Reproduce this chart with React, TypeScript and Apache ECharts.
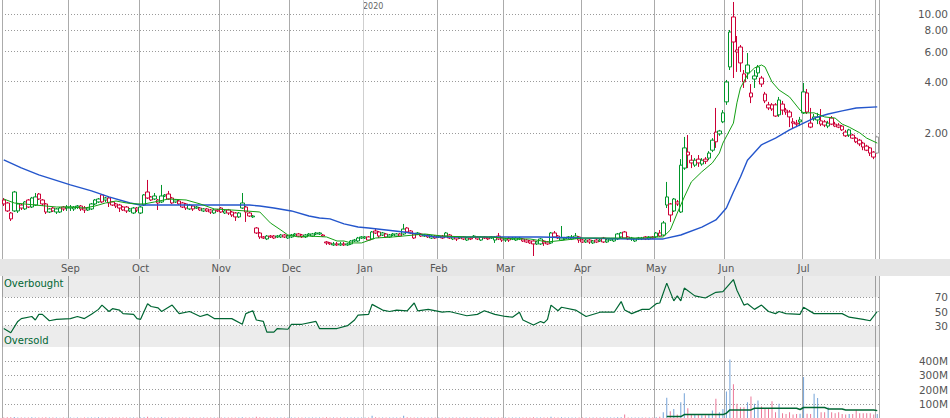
import React, { useEffect, useRef } from 'react';
import * as echarts from 'echarts';

// ---- categories: trading sessions per month (Aug 2019 .. Jul 2020) ----
const monthNames = ['Aug', 'Sep', 'Oct', 'Nov', 'Dec', 'Jan', 'Feb', 'Mar', 'Apr', 'May', 'Jun', 'Jul'];
const sessionsPerMonth = [19, 20, 23, 20, 21, 21, 19, 22, 21, 20, 22, 22];
const yearLabel = '2020';

// ---- candles: [open, close, low, high] ----
const augCandles = [
  [0.805, 0.763, 0.742, 0.827], [0.773, 0.694, 0.684, 0.784], [0.675, 0.623, 0.606, 0.684], [0.897, 0.694, 0.684, 0.910],
  [0.694, 0.763, 0.675, 0.773], [0.752, 0.722, 0.703, 0.763], [0.713, 0.784, 0.703, 0.794], [0.805, 0.732, 0.722, 0.816],
  [0.732, 0.827, 0.722, 0.839], [0.752, 0.839, 0.742, 0.885], [0.873, 0.816, 0.805, 0.885], [0.805, 0.763, 0.742, 0.816],
  [0.763, 0.684, 0.666, 0.773], [0.684, 0.713, 0.675, 0.722], [0.722, 0.694, 0.684, 0.732], [0.684, 0.713, 0.666, 0.722],
  [0.684, 0.722, 0.675, 0.732], [0.732, 0.713, 0.694, 0.742], [0.732, 0.722, 0.694, 0.752],
];
const sepCandles = [
  [0.732, 0.722, 0.694, 0.752], [0.713, 0.732, 0.694, 0.742], [0.742, 0.732, 0.713, 0.752], [0.742, 0.713, 0.694, 0.752],
  [0.722, 0.703, 0.675, 0.742], [0.703, 0.722, 0.694, 0.732], [0.713, 0.763, 0.703, 0.773], [0.805, 0.763, 0.752, 0.816],
  [0.784, 0.816, 0.773, 0.827], [0.862, 0.784, 0.773, 0.873], [0.827, 0.805, 0.784, 0.839], [0.827, 0.773, 0.732, 0.839],
  [0.784, 0.752, 0.742, 0.794], [0.763, 0.742, 0.722, 0.773], [0.752, 0.722, 0.684, 0.763], [0.732, 0.703, 0.694, 0.742],
  [0.732, 0.694, 0.675, 0.742], [0.694, 0.713, 0.684, 0.722], [0.675, 0.722, 0.666, 0.732], [0.722, 0.703, 0.684, 0.732],
];
const octCandles = [
  [0.675, 0.732, 0.666, 0.742], [0.752, 0.862, 0.742, 0.873], [0.897, 0.827, 0.816, 1.056], [0.839, 0.805, 0.794, 0.850],
  [0.850, 0.816, 0.805, 0.885], [0.805, 0.773, 0.703, 0.816], [0.784, 0.850, 0.773, 0.987], [0.862, 0.850, 0.839, 0.873],
  [0.873, 0.816, 0.805, 0.910], [0.827, 0.773, 0.763, 0.839], [0.805, 0.784, 0.773, 0.816], [0.794, 0.763, 0.752, 0.805],
  [0.773, 0.732, 0.722, 0.784], [0.763, 0.722, 0.703, 0.773], [0.713, 0.752, 0.703, 0.763], [0.742, 0.713, 0.694, 0.752],
  [0.732, 0.722, 0.713, 0.742], [0.722, 0.703, 0.694, 0.732], [0.694, 0.713, 0.684, 0.722], [0.713, 0.694, 0.684, 0.722],
  [0.703, 0.684, 0.666, 0.713], [0.675, 0.703, 0.666, 0.713], [0.703, 0.694, 0.684, 0.713],
];
const novCandles = [
  [0.722, 0.684, 0.675, 0.732], [0.675, 0.694, 0.666, 0.703], [0.703, 0.675, 0.657, 0.713], [0.684, 0.657, 0.640, 0.694],
  [0.675, 0.640, 0.606, 0.684], [0.640, 0.675, 0.631, 0.684], [0.773, 0.722, 0.713, 0.885], [0.732, 0.684, 0.598, 0.742],
  [0.675, 0.648, 0.640, 0.684], [0.640, 0.648, 0.631, 0.657], [0.551, 0.515, 0.508, 0.558], [0.515, 0.488, 0.475, 0.522],
  [0.488, 0.481, 0.475, 0.494], [0.475, 0.494, 0.468, 0.501], [0.494, 0.488, 0.481, 0.501], [0.494, 0.481, 0.475, 0.501],
  [0.494, 0.488, 0.481, 0.501], [0.488, 0.501, 0.481, 0.508], [0.501, 0.488, 0.481, 0.508], [0.481, 0.494, 0.475, 0.501],
];
const decCandles = [
  [0.488, 0.501, 0.481, 0.508], [0.508, 0.501, 0.494, 0.515], [0.508, 0.494, 0.488, 0.515], [0.501, 0.488, 0.481, 0.508],
  [0.488, 0.501, 0.481, 0.508], [0.508, 0.501, 0.494, 0.515], [0.494, 0.508, 0.488, 0.515], [0.515, 0.508, 0.501, 0.522],
  [0.515, 0.508, 0.501, 0.522], [0.501, 0.494, 0.488, 0.508], [0.456, 0.450, 0.438, 0.462], [0.450, 0.444, 0.438, 0.456],
  [0.438, 0.444, 0.432, 0.456], [0.444, 0.438, 0.432, 0.456], [0.438, 0.444, 0.432, 0.456], [0.444, 0.438, 0.432, 0.456],
  [0.438, 0.444, 0.432, 0.450], [0.444, 0.462, 0.438, 0.468], [0.468, 0.462, 0.456, 0.475], [0.462, 0.481, 0.456, 0.488],
  [0.488, 0.481, 0.475, 0.494],
];
const janCandles = [
  [0.488, 0.481, 0.475, 0.494], [0.488, 0.468, 0.462, 0.494], [0.475, 0.522, 0.468, 0.529], [0.529, 0.515, 0.508, 0.543],
  [0.522, 0.494, 0.481, 0.529], [0.515, 0.501, 0.494, 0.522], [0.508, 0.488, 0.481, 0.515], [0.488, 0.501, 0.481, 0.508],
  [0.508, 0.501, 0.494, 0.515], [0.494, 0.508, 0.488, 0.515], [0.508, 0.494, 0.488, 0.515], [0.508, 0.543, 0.501, 0.582],
  [0.551, 0.522, 0.515, 0.558], [0.529, 0.515, 0.508, 0.536], [0.481, 0.508, 0.475, 0.515], [0.515, 0.508, 0.501, 0.522],
  [0.508, 0.494, 0.488, 0.515], [0.501, 0.494, 0.488, 0.508], [0.501, 0.488, 0.481, 0.508], [0.481, 0.494, 0.475, 0.501],
  [0.494, 0.481, 0.475, 0.501],
];
const febCandles = [
  [0.494, 0.488, 0.481, 0.501], [0.494, 0.481, 0.475, 0.501], [0.515, 0.494, 0.488, 0.522], [0.501, 0.481, 0.475, 0.508],
  [0.475, 0.488, 0.468, 0.494], [0.488, 0.475, 0.462, 0.494], [0.488, 0.481, 0.475, 0.494], [0.488, 0.475, 0.468, 0.494],
  [0.468, 0.481, 0.462, 0.488], [0.481, 0.475, 0.468, 0.488], [0.494, 0.488, 0.481, 0.501], [0.488, 0.475, 0.468, 0.494],
  [0.468, 0.488, 0.462, 0.494], [0.488, 0.481, 0.475, 0.494], [0.481, 0.475, 0.468, 0.488], [0.488, 0.481, 0.475, 0.494],
  [0.468, 0.488, 0.450, 0.494], [0.494, 0.475, 0.468, 0.515], [0.481, 0.468, 0.456, 0.488],
];
const marCandles = [
  [0.468, 0.475, 0.456, 0.481], [0.481, 0.468, 0.456, 0.488], [0.481, 0.475, 0.468, 0.488], [0.468, 0.481, 0.462, 0.488],
  [0.475, 0.481, 0.468, 0.488], [0.475, 0.462, 0.456, 0.481], [0.468, 0.456, 0.450, 0.475], [0.462, 0.450, 0.444, 0.468],
  [0.462, 0.444, 0.377, 0.468], [0.444, 0.456, 0.438, 0.462], [0.444, 0.475, 0.438, 0.481], [0.462, 0.450, 0.432, 0.468],
  [0.456, 0.444, 0.438, 0.462], [0.450, 0.515, 0.444, 0.522], [0.515, 0.488, 0.481, 0.529], [0.494, 0.481, 0.475, 0.501],
  [0.468, 0.481, 0.462, 0.566], [0.475, 0.481, 0.468, 0.488], [0.488, 0.481, 0.475, 0.494], [0.475, 0.488, 0.468, 0.501],
  [0.481, 0.494, 0.475, 0.515], [0.488, 0.468, 0.450, 0.494],
];
const aprCandles = [
  [0.468, 0.456, 0.450, 0.475], [0.456, 0.468, 0.450, 0.475], [0.468, 0.456, 0.444, 0.475], [0.450, 0.462, 0.444, 0.468],
  [0.468, 0.456, 0.450, 0.475], [0.468, 0.462, 0.456, 0.475], [0.481, 0.456, 0.450, 0.488], [0.456, 0.468, 0.450, 0.475],
  [0.475, 0.468, 0.462, 0.481], [0.462, 0.475, 0.456, 0.481], [0.475, 0.508, 0.468, 0.515], [0.488, 0.515, 0.481, 0.522],
  [0.522, 0.481, 0.475, 0.529], [0.488, 0.475, 0.468, 0.494], [0.481, 0.475, 0.462, 0.488], [0.462, 0.475, 0.456, 0.481],
  [0.481, 0.475, 0.468, 0.488], [0.475, 0.481, 0.468, 0.488], [0.488, 0.475, 0.468, 0.494], [0.475, 0.488, 0.468, 0.494],
  [0.488, 0.481, 0.475, 0.494],
];
const mayCandles = [
  [0.488, 0.515, 0.481, 0.522], [0.515, 0.494, 0.488, 0.536], [0.501, 0.590, 0.494, 0.606], [0.839, 0.752, 0.722, 1.028],
  [0.763, 0.657, 0.598, 0.773], [0.694, 0.816, 0.684, 0.827], [0.784, 0.763, 0.742, 0.805], [0.684, 1.29, 0.675, 1.40],
  [1.24, 1.63, 1.21, 1.89], [1.54, 1.48, 1.24, 1.94], [1.38, 1.33, 1.24, 1.48], [1.29, 1.38, 1.26, 1.42],
  [1.40, 1.33, 1.26, 1.48], [1.31, 1.38, 1.28, 1.42], [1.40, 1.36, 1.31, 1.44], [1.42, 1.52, 1.38, 1.56],
  [1.58, 1.81, 1.54, 1.86], [2.02, 1.77, 1.63, 2.80], [1.97, 2.05, 1.92, 2.08], [2.32, 2.62, 2.28, 2.72],
];
const junCandles = [
  [3.04, 3.98, 2.92, 4.09], [4.88, 7.83, 4.68, 8.05], [9.60, 6.84, 4.20, 11.76], [6.14, 5.97, 4.56, 7.42],
  [6.39, 5.15, 4.56, 6.57], [4.44, 3.98, 3.67, 4.68], [5.01, 4.50, 4.14, 5.89], [3.25, 3.43, 2.99, 3.87],
  [4.32, 4.14, 3.67, 4.68], [4.88, 4.50, 4.26, 5.01], [4.20, 3.87, 3.72, 4.32], [3.38, 3.08, 2.99, 3.48],
  [2.92, 2.80, 2.72, 3.04], [2.92, 2.76, 2.69, 2.99], [2.92, 2.51, 2.48, 2.99], [2.55, 3.12, 2.48, 3.25],
  [2.95, 2.72, 2.55, 3.08], [2.72, 2.65, 2.55, 2.80], [2.65, 2.48, 2.16, 2.72], [2.32, 2.28, 2.13, 2.44],
  [2.28, 2.25, 2.16, 2.38], [2.38, 2.32, 2.19, 2.48],
];
const julCandles = [
  [2.62, 3.48, 2.58, 3.93], [3.43, 2.65, 2.58, 3.62], [2.16, 2.28, 2.13, 2.80], [2.41, 2.48, 2.35, 2.58],
  [2.38, 2.48, 2.25, 2.62], [2.35, 2.25, 2.19, 2.76], [2.32, 2.22, 2.16, 2.38], [2.19, 2.28, 2.13, 2.35],
  [2.44, 2.25, 2.22, 2.51], [2.25, 2.19, 2.16, 2.32], [2.22, 2.16, 2.13, 2.28], [2.19, 2.08, 2.05, 2.22],
  [2.02, 1.92, 1.89, 2.08], [2.08, 1.94, 1.89, 2.11], [1.94, 1.86, 1.84, 1.97], [1.86, 1.77, 1.74, 1.89],
  [1.81, 1.72, 1.67, 1.84], [1.74, 1.65, 1.58, 1.77], [1.67, 1.58, 1.56, 1.70], [1.63, 1.52, 1.46, 1.65],
  [1.54, 1.44, 1.40, 1.56], [1.52, 1.89, 1.50, 1.92],
];

// ---- volume (millions of shares) ----
const augVolume = [4, 5, 6, 7, 4, 3, 4, 3, 5, 4, 3, 4, 5, 3, 3, 3, 2, 3, 2];
const sepVolume = [3, 2, 3, 2, 3, 3, 4, 3, 5, 3, 4, 3, 3, 3, 3, 4, 3, 3, 3, 4];
const octVolume = [4, 6, 8, 4, 3, 4, 6, 3, 4, 3, 3, 3, 4, 3, 3, 3, 2, 3, 3, 3, 3, 3, 3];
const novVolume = [3, 3, 3, 3, 4, 3, 6, 4, 3, 3, 8, 5, 3, 3, 3, 3, 3, 3, 3, 3];
const decVolume = [3, 3, 3, 3, 3, 3, 3, 3, 3, 3, 5, 4, 3, 3, 3, 3, 3, 4, 3, 3, 3];
const janVolume = [3, 3, 16, 5, 4, 3, 3, 3, 3, 3, 3, 16, 5, 3, 4, 3, 3, 3, 3, 3, 3];
const febVolume = [3, 3, 3, 3, 3, 3, 3, 3, 3, 3, 3, 3, 3, 3, 3, 3, 3, 3, 3];
const marVolume = [3, 3, 3, 3, 3, 3, 3, 3, 5, 3, 3, 3, 3, 8, 4, 3, 6, 3, 3, 3, 3, 3];
const aprVolume = [3, 3, 3, 3, 3, 3, 3, 3, 3, 3, 5, 6, 25, 4, 3, 3, 3, 3, 3, 3, 3];
const mayVolume = [5, 8, 40, 143, 48, 64, 24, 111, 175, 69, 29, 24, 24, 20, 20, 24, 52, 135, 40, 64];
const junVolume = [187, 412, 237, 100, 76, 76, 111, 152, 100, 123, 81, 71, 71, 118, 40, 100, 33, 29, 40, 24, 29, 30];
const julVolume = [289, 30, 29, 171, 140, 40, 40, 76, 40, 33, 40, 29, 24, 29, 29, 57, 33, 33, 33, 33, 24, 29];

// ---- indicator lines: [session index, value] ----
const maShort = [
  [0, 0.816], [3, 0.773], [9, 0.752], [15, 0.732], [19, 0.732], [23, 0.722], [26, 0.742], [29, 0.773], [32, 0.794],
  [35, 0.773], [38, 0.763], [40, 0.763], [43, 0.784], [47, 0.816], [52, 0.805], [56, 0.763], [60, 0.713], [65, 0.703],
  [69, 0.694], [73, 0.684], [76, 0.590], [79, 0.536], [81, 0.501], [84, 0.488], [87, 0.494], [92, 0.488], [95, 0.462],
  [97, 0.462], [99, 0.450], [102, 0.450], [106, 0.481], [111, 0.488], [117, 0.501], [120, 0.508], [125, 0.494],
  [132, 0.488], [139, 0.488], [145, 0.475], [150, 0.475], [155, 0.456], [160, 0.468], [165, 0.481], [173, 0.481],
  [182, 0.481], [186, 0.488], [188, 0.488], [190, 0.536], [192, 0.675], [194, 0.839], [196, 1.028], [199, 1.18],
  [202, 1.33], [204, 1.52], [205, 1.74], [208, 2.28], [209, 3.00], [210, 3.67], [212, 4.38], [214, 4.81], [216, 5.01],
  [217, 4.88], [219, 3.98], [221, 3.57], [224, 3.25], [227, 2.72], [228, 2.62], [231, 2.62], [234, 2.48], [237, 2.44],
  [239, 2.25], [241, 2.16], [244, 2.00], [246, 1.86], [249, 1.74],
];
const maLong = [
  [0, 1.384], [5, 1.242], [10, 1.13], [19, 0.987], [25, 0.910], [30, 0.839], [36, 0.773], [39, 0.752], [45, 0.752],
  [56, 0.752], [70, 0.752], [73, 0.742], [77, 0.722], [82, 0.694], [87, 0.648], [90, 0.631], [93, 0.623], [97, 0.582],
  [101, 0.558], [104, 0.551], [109, 0.536], [114, 0.522], [118, 0.508], [123, 0.488], [130, 0.488], [139, 0.488],
  [153, 0.488], [165, 0.481], [179, 0.475], [188, 0.475], [193, 0.501], [199, 0.558], [203, 0.614], [206, 0.722],
  [208, 0.897], [210, 1.10], [212, 1.38], [216, 1.70], [220, 1.86], [224, 2.08], [228, 2.28], [231, 2.44], [235, 2.58],
  [239, 2.69], [243, 2.80], [249, 2.84],
];
const rsiPoints = [
  [0, 26], [2, 20], [4, 36], [5, 40], [8, 43], [9, 38], [10, 46], [11, 46], [13, 37], [15, 39], [19, 40], [21, 43],
  [23, 40], [25, 46], [27, 53], [28, 59], [30, 50], [31, 54], [33, 52], [34, 47], [37, 46], [38, 40], [39, 39], [41, 61],
  [42, 57], [44, 55], [45, 50], [48, 59], [50, 47], [53, 50], [56, 43], [58, 46], [60, 40], [65, 40], [68, 32], [69, 47],
  [71, 51], [72, 38], [74, 36], [75, 21], [77, 21], [78, 26], [81, 25], [82, 32], [85, 32], [89, 36], [90, 26], [95, 26],
  [98, 30], [100, 38], [101, 45], [104, 46], [105, 60], [108, 52], [110, 50], [112, 52], [115, 51], [117, 62], [118, 51],
  [121, 53], [125, 49], [127, 50], [132, 44], [135, 46], [137, 51], [140, 46], [143, 43], [145, 42], [147, 49], [148, 38],
  [151, 31], [153, 36], [154, 34], [155, 39], [156, 59], [158, 51], [159, 56], [163, 52], [166, 43], [170, 49], [174, 49],
  [176, 64], [177, 52], [179, 47], [182, 53], [184, 53], [186, 61], [187, 62], [189, 90], [191, 65], [192, 72], [193, 65],
  [194, 83], [197, 72], [200, 69], [203, 77], [205, 78], [208, 95], [209, 80], [211, 59], [212, 61], [214, 53], [216, 59],
  [218, 50], [220, 47], [221, 50], [223, 47], [227, 46], [228, 56], [231, 47], [234, 47], [239, 47], [241, 42], [245, 39],
  [247, 37], [249, 50],
];
const volumeAverage = [
  [189, 10], [193, 10], [194, 24], [205, 24], [206, 33], [207, 57], [213, 57], [214, 69], [226, 69], [227, 60],
  [228, 74], [234, 74], [235, 64], [239, 64], [240, 57], [248, 57], [249, 52],
];

// ---- axis ticks ----
const priceTicks = [2, 4, 6, 8, 10];
const rsiTicks = [30, 50, 70];
const volumeTicks = [100, 200, 300, 400];

const FONT = 'DejaVu Sans';
const GREEN = '#00952a';
const RED = '#cc0036';
const GREY = '#9c9c9c';
const BLUE_VOL = '#74a3d8';
const PINK_VOL = '#ec7898';

export default function App() {
  const ref = useRef<HTMLDivElement>(null);

  useEffect(() => {
    if (!ref.current) return;
    const chart = echarts.init(ref.current, null, { renderer: 'svg' });

    const categories: string[] = [];
    const monthStarts: number[] = [];
    monthNames.forEach((m, mi) => {
      monthStarts.push(categories.length);
      for (let d = 1; d <= sessionsPerMonth[mi]; d++) categories.push(`${m} ${d}`);
    });
    const n = categories.length;
    const janStart = monthStarts[monthNames.indexOf('Jan')];
    const labelSet = new Set(monthStarts.slice(1));
    const lineIdx = [0, ...monthStarts.slice(1), n - 1];
    const lineSet = new Set(lineIdx);
    const lineColors = [...lineIdx.map((i) => (i === janStart ? '#cfcfcf' : '#ababab')), '#ababab'];

    const candles = [
      ...augCandles, ...sepCandles, ...octCandles, ...novCandles, ...decCandles, ...janCandles,
      ...febCandles, ...marCandles, ...aprCandles, ...mayCandles, ...junCandles, ...julCandles,
    ];
    const volume = [
      ...augVolume, ...sepVolume, ...octVolume, ...novVolume, ...decVolume, ...janVolume,
      ...febVolume, ...marVolume, ...aprVolume, ...mayVolume, ...junVolume, ...julVolume,
    ];
    const upDay = candles.map((c, i) => (i === 0 ? c[1] >= c[0] : c[1] >= candles[i - 1][1]));
    const candleItems = candles.map((c, i) => {
      const tone = i === candles.length - 1 ? GREY : upDay[i] ? GREEN : RED;
      return {
        value: c,
        itemStyle: { color: '#ffffff', color0: tone, borderColor: tone, borderColor0: tone, borderWidth: 1 },
      };
    });
    const volItems = volume.map((v, i) => ({ value: v, itemStyle: { color: upDay[i] ? BLUE_VOL : PINK_VOL } }));

    const xAxes = [0, 1, 2].map((g) => ({
      type: 'category',
      gridIndex: g,
      data: categories,
      boundaryGap: true,
      axisLine: { show: false },
      axisTick: { show: false },
      axisLabel:
        g === 0
          ? {
              show: true,
              interval: (i: number) => labelSet.has(i),
              formatter: (v: string) => v.split(' ')[0],
              color: '#555',
              fontSize: 10,
              fontFamily: FONT,
              margin: 4,
            }
          : { show: false },
      splitLine: {
        show: true,
        interval: (i: number) => lineSet.has(i),
        lineStyle: { color: lineColors, width: 1 },
      },
    }));

    const dotted = { color: '#9a9a9a', type: [1, 2], width: 1 };
    const rightLabel = { align: 'right', margin: 69, color: '#555', fontSize: 10.5, fontFamily: FONT };

    const option: any = {
      animation: false,
      textStyle: { fontFamily: FONT },
      grid: [
        { left: 2, right: 71, top: 0, height: 259, outerBoundsMode: 'none' },
        { left: 2, right: 71, top: 276, height: 71, outerBoundsMode: 'none' },
        { left: 2, right: 71, top: 347, height: 71, outerBoundsMode: 'none' },
      ],
      xAxis: xAxes,
      yAxis: [
        {
          type: 'log',
          logBase: 10,
          gridIndex: 0,
          position: 'right',
          min: 0.362,
          max: 12.08,
          axisLine: { show: false },
          axisTick: { show: false, customValues: priceTicks },
          axisLabel: { ...rightLabel, customValues: priceTicks, formatter: (v: number) => Number(v).toFixed(2) },
          splitLine: { show: true, lineStyle: dotted },
        },
        {
          type: 'value',
          gridIndex: 1,
          position: 'right',
          min: 0,
          max: 100,
          axisLine: { show: false },
          axisTick: { show: false, customValues: rsiTicks },
          axisLabel: { ...rightLabel, customValues: rsiTicks, formatter: (v: number) => String(v) },
          splitLine: { show: true, lineStyle: dotted },
        },
        {
          type: 'value',
          gridIndex: 2,
          position: 'right',
          min: 0,
          max: 500,
          axisLine: { show: false },
          axisTick: { show: false, customValues: volumeTicks },
          axisLabel: { ...rightLabel, customValues: volumeTicks, formatter: (v: number) => `${v}M` },
          splitLine: { show: true, lineStyle: dotted },
        },
      ],
      series: [
        {
          type: 'candlestick',
          xAxisIndex: 0,
          yAxisIndex: 0,
          barWidth: 4,
          data: candleItems,
          silent: true,
          z: 2,
        },
        {
          type: 'line',
          xAxisIndex: 0,
          yAxisIndex: 0,
          data: maLong,
          symbol: 'none',
          silent: true,
          lineStyle: { color: '#2456cc', width: 1.4 },
          z: 3,
        },
        {
          type: 'line',
          xAxisIndex: 0,
          yAxisIndex: 0,
          data: maShort,
          symbol: 'none',
          silent: true,
          lineStyle: { color: '#14a014', width: 1 },
          z: 4,
        },
        {
          type: 'line',
          xAxisIndex: 1,
          yAxisIndex: 1,
          data: rsiPoints,
          symbol: 'none',
          silent: true,
          lineStyle: { color: '#006633', width: 1.2 },
          z: 4,
          markArea: {
            silent: true,
            itemStyle: { color: 'rgba(0,0,0,0.075)' },
            label: { show: true, color: '#006633', fontSize: 10, fontFamily: FONT, distance: 2 },
            data: [
              [{ yAxis: 70, name: 'Overbought', label: { position: 'insideTopLeft' } }, { yAxis: 100 }],
              [{ yAxis: 0, name: 'Oversold', label: { position: 'insideBottomLeft' } }, { yAxis: 30 }],
            ],
          },
        },
        {
          type: 'bar',
          xAxisIndex: 2,
          yAxisIndex: 2,
          barWidth: 1,
          data: volItems,
          silent: true,
          z: 2,
        },
        {
          type: 'line',
          xAxisIndex: 2,
          yAxisIndex: 2,
          data: volumeAverage,
          symbol: 'none',
          silent: true,
          lineStyle: { color: '#006633', width: 1.5 },
          z: 4,
        },
      ],
      graphic: [
        {
          type: 'rect',
          silent: true,
          z: -10,
          shape: { x: 0, y: 259, width: 950, height: 17 },
          style: { fill: '#e6e6e6' },
        },
        {
          type: 'text',
          silent: true,
          x: 363,
          y: 2,
          style: { text: yearLabel, fill: '#666', font: `8px ${FONT}` },
        },
      ],
    };

    chart.setOption(option);
    return () => chart.dispose();
  }, []);

  return <div ref={ref} style={{ position: 'absolute', left: 0, top: 0, width: 950, height: 418 }} />;
}
